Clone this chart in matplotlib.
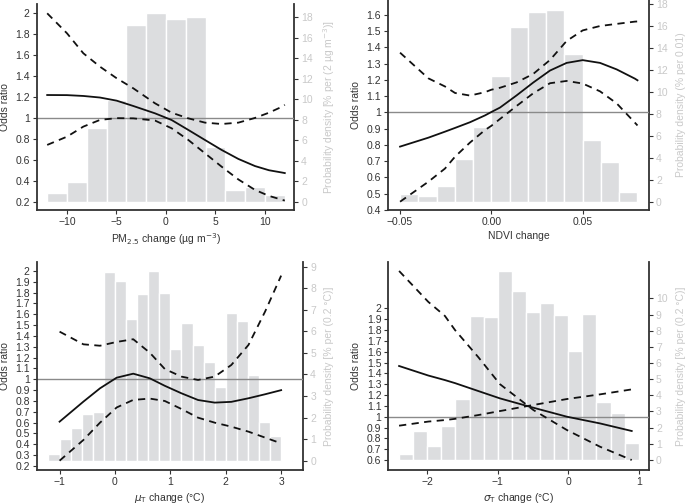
import matplotlib
matplotlib.use("Agg")
import matplotlib.pyplot as plt
import numpy as np
from matplotlib.ticker import FormatStrFormatter, FuncFormatter

plt.rcParams['font.family'] = ['Liberation Sans', 'DejaVu Sans']
plt.rcParams['axes.unicode_minus'] = True

# ---------------- Panel A: PM2.5 ----------------
pm_bins = [-11, -9, -7, -5, -3, -1, 1, 3, 5, 7, 9, 11]
pm_density = [0.88, 1.95, 7.16, 9.93, 17.25, 18.4, 17.84, 18.0, 5.3, 1.14, 1.46, 0.65]
pm_x = [-12, -10, -8.35, -6.67, -4.98, -3.3, -1.11, 0.57, 2.26, 3.94, 5.62, 7.31, 8.99, 10.4, 11.78, 12]
pm_or = [1.219, 1.218, 1.21, 1.195, 1.165, 1.114, 1.044, 0.98, 0.885, 0.789, 0.694, 0.608, 0.54, 0.5, 0.477, 0.473]
pm_up = [2.0, 1.809, 1.618, 1.49, 1.379, 1.283, 1.14, 1.05, 0.996, 0.955, 0.942, 0.955, 1.0, 1.05, 1.11, 1.125]
pm_lo = [0.742, 0.821, 0.917, 0.981, 0.998, 0.996, 0.975, 0.901, 0.789, 0.662, 0.534, 0.412, 0.312, 0.255, 0.216, 0.21]

# ---------------- Panel B: NDVI ----------------
ndvi_bins = [-0.045, -0.035, -0.025, -0.015, -0.005, 0.005, 0.015, 0.025, 0.035, 0.045, 0.055, 0.065, 0.075]
ndvi_density = [0.7, 0.5, 1.4, 3.85, 6.8, 11.4, 15.9, 17.2, 17.4, 13.4, 5.6, 3.6, 0.85]
ndvi_x = [-0.05, -0.0345, -0.0254, -0.0199, -0.0117, -0.0035, 0.0, 0.0047, 0.0138, 0.0229, 0.0321, 0.0412, 0.05, 0.0595, 0.0686, 0.0786, 0.08]
ndvi_or = [0.79, 0.845, 0.882, 0.905, 0.94, 0.982, 1.003, 1.03, 1.105, 1.184, 1.258, 1.305, 1.322, 1.305, 1.265, 1.208, 1.198]
ndvi_up = [1.368, 1.21, 1.16, 1.12, 1.104, 1.125, 1.14, 1.152, 1.185, 1.237, 1.323, 1.44, 1.505, 1.532, 1.545, 1.559, 1.56]
ndvi_lo = [0.451, 0.574, 0.655, 0.728, 0.815, 0.892, 0.918, 0.96, 1.04, 1.118, 1.18, 1.194, 1.178, 1.13, 1.056, 0.937, 0.92]

# ---------------- Panel C: mu_T ----------------
mu_bins = [-1.1, -0.9, -0.7, -0.5, -0.3, -0.1, 0.1, 0.3, 0.5, 0.7, 0.9, 1.1, 1.3, 1.5, 1.7, 1.9, 2.1, 2.3, 2.5, 2.7, 2.9, 3.1]
mu_density = [0.29, 1.0, 1.5, 2.16, 2.27, 8.76, 8.33, 6.57, 7.73, 8.79, 7.76, 5.16, 6.37, 5.36, 4.56, 3.43, 6.83, 6.48, 3.97, 1.81, 1.13, 0.03]
mu_x = [-1.0, -0.57, -0.27, 0.03, 0.33, 0.63, 0.9, 1.2, 1.5, 1.8, 2.1, 2.41, 2.71, 3.0]
mu_or = [0.609, 0.794, 0.917, 1.015, 1.052, 1.009, 0.94, 0.871, 0.809, 0.785, 0.792, 0.825, 0.862, 0.90]
mu_up = [1.44, 1.323, 1.31, 1.345, 1.37, 1.245, 1.095, 1.025, 0.994, 1.025, 1.132, 1.317, 1.625, 1.957]
mu_lo = [0.249, 0.44, 0.6, 0.74, 0.81, 0.822, 0.8, 0.726, 0.646, 0.6, 0.563, 0.517, 0.462, 0.409]

# ---------------- Panel D: sigma_T ----------------
sig_bins = [-2.3, -2.1, -1.9, -1.7, -1.5, -1.3, -1.1, -0.9, -0.7, -0.5, -0.3, -0.1, 0.1, 0.3, 0.5, 0.7, 0.9]
sig_density = [0.37, 1.81, 0.89, 2.12, 3.79, 8.91, 8.87, 11.69, 10.45, 9.18, 9.73, 8.97, 6.74, 9.05, 3.61, 2.89, 1.03]
sig_x = [-2.4, -1.986, -1.75, -1.607, -1.277, -0.969, -0.496, -0.02, 0.45, 0.9]
sig_or = [1.468, 1.38, 1.338, 1.31, 1.237, 1.169, 1.083, 1.0, 0.938, 0.868]
sig_up = [2.345, 2.06, 1.93, 1.8, 1.55, 1.3, 1.062, 0.877, 0.723, 0.6]
sig_lo = [0.917, 0.955, 0.969, 0.98, 1.015, 1.052, 1.108, 1.163, 1.206, 1.252]

DARK = '#333333'
LIGHT = '#c9c9c9'
BAR = '#dcdddf'

fig = plt.figure(figsize=(6.85, 5.04), dpi=100)
W, H = 685.0, 504.0


def rect(l, r, t, b):
    return [l / W, (H - b) / H, (r - l) / W, (b - t) / H]


def panel(rc, bins, dens, bw, x, orr, up, lo, xlim, ylim_l, ylim_r, yticks_l, yticks_r,
          xticks, xfmt, xlabel, rlabel):
    ax = fig.add_axes(rc)
    ax2 = ax.twinx()
    ax.set_zorder(ax2.get_zorder() + 1)
    ax.patch.set_visible(False)
    ax2.bar(bins, dens, width=bw, color=BAR, edgecolor='white', linewidth=1.0)
    ax.axhline(1.0, color='#8a8a8a', lw=1.0, zorder=1)
    ax.plot(x, orr, color='#111111', lw=1.3, zorder=3)
    ax.plot(x, up, color='#111111', lw=1.3, ls=(0, (4, 3)), zorder=3)
    ax.plot(x, lo, color='#111111', lw=1.3, ls=(0, (4, 3)), zorder=3)
    ax.set_xlim(xlim)
    ax.set_ylim(ylim_l)
    ax2.set_ylim(ylim_r)
    ax.set_yticks(yticks_l)
    ax.yaxis.set_major_formatter(FormatStrFormatter('%g'))
    ax2.set_yticks(yticks_r)
    ax2.yaxis.set_major_formatter(FormatStrFormatter('%g'))
    ax.set_xticks(xticks)
    ax.xaxis.set_major_formatter(FuncFormatter(xfmt))
    for a in (ax, ax2):
        a.spines['top'].set_visible(False)
        for s in ('left', 'right', 'bottom'):
            a.spines[s].set_color(DARK)
            a.spines[s].set_linewidth(1.3)
    ax.spines['right'].set_visible(False)
    ax2.spines['left'].set_visible(False)
    ax2.spines['bottom'].set_visible(False)
    ax.tick_params(axis='both', direction='out', length=3, width=0.8, color=DARK,
                   labelcolor=DARK, labelsize=7.5, pad=2)
    ax2.tick_params(axis='y', direction='out', length=3, width=0.8, color=DARK,
                    labelcolor=LIGHT, labelsize=7.5, pad=2)
    ax.set_ylabel('Odds ratio', fontsize=7.5, color=DARK, labelpad=4)
    ax.set_xlabel(xlabel, fontsize=7.5, color=DARK, labelpad=3)
    ax2.set_ylabel(rlabel, fontsize=7.5, color=LIGHT, labelpad=6)
    return ax, ax2


def fmt_int(v, pos):
    return ('%g' % v).replace('-', '\u2212')


def fmt_2(v, pos):
    return ('%.2f' % v).replace('-', '\u2212')


panel(rect(36.7, 294.3, 4, 210), pm_bins, pm_density, 2.0, pm_x, pm_or, pm_up, pm_lo,
      (-13.06, 12.96), (0.12, 2.089), (-0.81, 19.31),
      np.arange(0.2, 2.01, 0.2), np.arange(0, 18.1, 2), [-10, -5, 0, 5, 10], fmt_int,
      'PM$_{2.5}$ change (\u00b5g m$^{-3}$)',
      'Probability density [% per (2 \u00b5g m$^{-3}$)]')

panel(rect(388, 649, 0, 210), ndvi_bins, ndvi_density, 0.01, ndvi_x, ndvi_or, ndvi_up, ndvi_lo,
      (-0.0566, 0.0863), (0.4, 1.692), (-0.75, 18.33),
      np.arange(0.4, 1.601, 0.1), np.arange(0, 18.1, 2), [-0.05, 0.0, 0.05], fmt_2,
      'NDVI change', 'Probability density (% per 0.01)')

panel(rect(36.7, 303.3, 262.3, 470), mu_bins, mu_density, 0.2, mu_x, mu_or, mu_up, mu_lo,
      (-1.413, 3.40), (0.163, 2.08), (-0.43, 9.2),
      np.arange(0.2, 2.001, 0.1), np.arange(0, 9.1, 1), [-1, 0, 1, 2, 3], fmt_int,
      '$\\mu_\\mathrm{T}$ change (\u00b0C)', 'Probability density [% per (0.2 \u00b0C)]')

panel(rect(388.3, 649, 262.3, 470), sig_bins, sig_density, 0.2, sig_x, sig_or, sig_up, sig_lo,
      (-2.553, 1.145), (0.508, 2.425), (-0.62, 12.23),
      np.arange(0.6, 2.001, 0.1), np.arange(0, 10.1, 1), [-2, -1, 0, 1], fmt_int,
      '$\\sigma_\\mathrm{T}$ change (\u00b0C)', 'Probability density [% per (0.2 \u00b0C)]')

fig.savefig('out.png', dpi=100)
